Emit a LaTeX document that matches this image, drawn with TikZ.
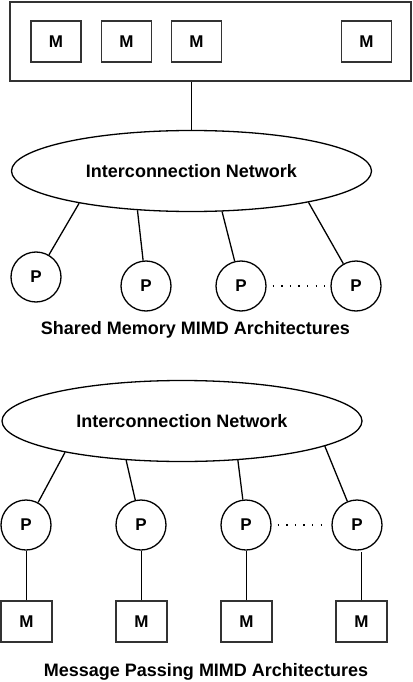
\documentclass[tikz,border=0pt]{standalone}
\usepackage{fontspec}
\setmainfont{Liberation Sans}
\usetikzlibrary{shapes.geometric}
\begin{document}
\begin{tikzpicture}[x=1pt,y=-1pt,
  line width=1.3pt,
  membox/.style={draw=black!80, minimum width=50pt, minimum height=41pt, inner sep=0pt, font=\fontsize{17}{19}\selectfont\bfseries},
  proc/.style={draw=black, circle, minimum size=50pt, inner sep=0pt, font=\fontsize{17}{19}\selectfont\bfseries},
  net/.style={draw=black, ellipse, minimum width=360pt, minimum height=81pt, inner sep=0pt, font=\fontsize{18}{21}\selectfont\bfseries},
  caption/.style={font=\fontsize{18}{21}\selectfont\bfseries, inner sep=0pt},
  dots/.style={line width=1.3pt, dash pattern=on 1.3pt off 7.3pt, shorten >=6pt, shorten <=6pt}]
\useasboundingbox (0,0) rectangle (412,682);
% ---------- Shared memory ----------
\node[draw=black!80, minimum width=401pt, minimum height=79pt, inner sep=0pt] (memory) at (210.5,41.5) {};
\node[membox] (ma) at (56,41.5) {M};
\node[membox] (mb) at (126.5,41.5) {M};
\node[membox] (mc) at (196.5,41.5) {M};
\node[membox] (md) at (366.5,41.5) {M};
\node[net] (neta) at (191.5,171) {Interconnection Network};
\draw (neta.north) -- (neta.north |- memory.south);
\node[proc] (pa) at (36,277) {P};
\node[proc] (pb) at (146,286) {P};
\node[proc] (pc) at (241,286) {P};
\node[proc] (pd) at (356,286) {P};
\draw (neta.-164.8) -- (pa);
\draw (neta.-144.2) -- (pb);
\draw (neta.-53.4) -- (pc);
\draw (neta.-15.5) -- (pd);
\draw[dots] (pc.east) -- (pd.west);
\node[caption] (capa) at (195.5,330) {Shared Memory MIMD Architectures};
% ---------- Message passing ----------
\node[net] (netb) at (182,421) {Interconnection Network};
\node[proc] (qa) at (26,525) {P};
\node[proc] (qb) at (141,525) {P};
\node[proc] (qc) at (246,525) {P};
\node[proc] (qd) at (357,525) {P};
\draw (netb.-165.6) -- (qa);
\draw (netb.-145.1) -- (qb);
\draw (netb.-35.8) -- (qc);
\draw (netb.-10.5) -- (qd);
\draw[dots] (qc.east) -- (qd.west);
\node[membox, minimum width=51pt] (na) at (26.5,621.5) {M};
\node[membox, minimum width=51pt] (nb) at (141.5,621.5) {M};
\node[membox, minimum width=51pt] (nc) at (246.5,621.5) {M};
\node[membox, minimum width=51pt] (nd) at (361.5,621.5) {M};
\draw (na.north) -- (na.north |- qa.south);
\draw (nb.north) -- (nb.north |- qb.south);
\draw (nc.north) -- (nc.north |- qc.south);
\draw (nd.north) -- ([yshift=-1pt]nd.north |- qd.south);
\node[caption] (capb) at (206,672) {Message Passing MIMD Architectures};
\end{tikzpicture}
\end{document}
